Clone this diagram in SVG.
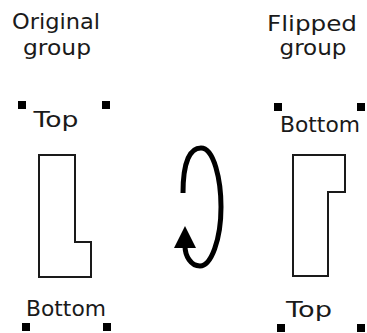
<svg xmlns="http://www.w3.org/2000/svg" width="367" height="333" viewBox="0 0 367 333">
<style>
text{font-family:"DejaVu Sans","Liberation Sans",sans-serif;font-size:22px;fill:#1a1a1a;text-anchor:middle}
.shape{fill:#fff;stroke:#1a1a1a;stroke-width:2}
.h{fill:#000}
</style>
<rect width="367" height="333" fill="#fff"/>
<g id="original">
<text x="56" y="29" textLength="88" lengthAdjust="spacingAndGlyphs">Original</text>
<text x="57" y="55" textLength="68" lengthAdjust="spacingAndGlyphs">group</text>
<rect class="h" x="18" y="101" width="8" height="8"/>
<rect class="h" x="102" y="101" width="8" height="8"/>
<text x="56" y="127" textLength="45" lengthAdjust="spacingAndGlyphs">Top</text>
<polygon class="shape" points="39,155 75,155 75,242 91,242 91,277 39,277"/>
<text x="66" y="316" textLength="80" lengthAdjust="spacingAndGlyphs">Bottom</text>
<rect class="h" x="22" y="323" width="8" height="8"/>
<rect class="h" x="103" y="323" width="8" height="8"/>
</g>
<g id="flipped">
<text x="312" y="31" textLength="90" lengthAdjust="spacingAndGlyphs">Flipped</text>
<text x="313" y="55" textLength="67" lengthAdjust="spacingAndGlyphs">group</text>
<rect class="h" x="274" y="103" width="8" height="8"/>
<rect class="h" x="357" y="103" width="8" height="8"/>
<text x="320" y="132" textLength="80" lengthAdjust="spacingAndGlyphs">Bottom</text>
<polygon class="shape" points="293,155 345,155 345,192 328,192 328,276 293,276"/>
<text x="309" y="317" textLength="46" lengthAdjust="spacingAndGlyphs">Top</text>
<rect class="h" x="277" y="324" width="8" height="8"/>
<rect class="h" x="357" y="324" width="8" height="8"/>
</g>
<g id="connectors">
<path d="M183 193 C183 162 190 148 201 148 C214 148 221 180 221 207 C221 240 211 266 200 266 C191 266 185 256 185 246" fill="none" stroke="#000" stroke-width="5"/>
<polygon points="185,226 174,248 196,248" fill="#000"/>
</g>
</svg>
